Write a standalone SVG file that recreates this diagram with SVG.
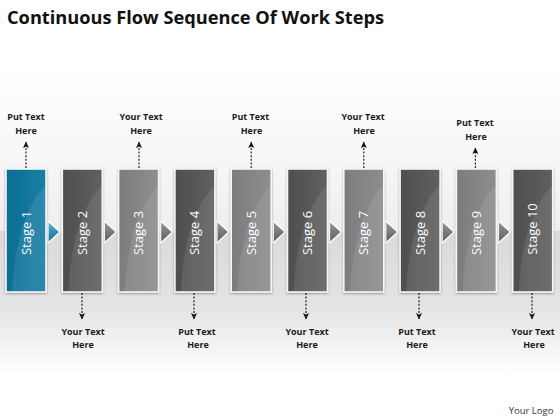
<svg xmlns="http://www.w3.org/2000/svg" width="560" height="420" viewBox="0 0 560 420">
<defs>
<linearGradient id="bgTop" x1="0" y1="0" x2="0" y2="1">
<stop offset="0" stop-color="#ffffff"/>
<stop offset="1" stop-color="#efefef"/>
</linearGradient>
<linearGradient id="bgBand" x1="0" y1="0" x2="0" y2="1">
<stop offset="0" stop-color="#dadada"/>
<stop offset="0.5" stop-color="#e3e3e3"/>
<stop offset="1" stop-color="#ffffff"/>
</linearGradient>
<linearGradient id="gBlue" x1="0" y1="0" x2="1" y2="0">
<stop offset="0" stop-color="#0e6d92"/>
<stop offset="1" stop-color="#157fa6"/>
</linearGradient>
<linearGradient id="gDark" x1="0" y1="0" x2="1" y2="0">
<stop offset="0" stop-color="#4e4e4e"/>
<stop offset="1" stop-color="#606060"/>
</linearGradient>
<linearGradient id="gLight" x1="0" y1="0" x2="1" y2="0">
<stop offset="0" stop-color="#7c7c7c"/>
<stop offset="1" stop-color="#8e8e8e"/>
</linearGradient>
<linearGradient id="tBlue" x1="0" y1="0" x2="0" y2="1">
<stop offset="0" stop-color="#5fb7d6"/>
<stop offset="1" stop-color="#0e6a8e"/>
</linearGradient>
<linearGradient id="tGray" x1="0" y1="0" x2="0" y2="1">
<stop offset="0" stop-color="#9a9a9a"/>
<stop offset="1" stop-color="#5a5a5a"/>
</linearGradient>
<filter id="sh" x="-20%" y="-10%" width="140%" height="120%">
<feDropShadow dx="0" dy="1" stdDeviation="1.2" flood-color="#000" flood-opacity="0.35"/>
</filter>
<marker id="ah" viewBox="0 0 8 8" refX="7" refY="4" markerWidth="7" markerHeight="7" markerUnits="userSpaceOnUse" orient="auto">
<path d="M0,0.5 L7.5,4 L0,7.5 L2,4 z" fill="#111"/>
</marker>
<style>
.box{stroke:#f6f6f6;stroke-width:1.6;filter:url(#sh)}
.gloss{fill:#ffffff;opacity:0.09}
.stg{font-family:"Open Sans","Liberation Sans",sans-serif;font-size:13px;fill:#ffffff;text-anchor:middle}
.tri{stroke:#ffffff;stroke-width:1.3}
.lbl{font-family:"Open Sans","Liberation Sans",sans-serif;font-size:9px;font-weight:bold;fill:#1a1a1a;text-anchor:middle}
.con{stroke:#111;stroke-width:1.1;stroke-dasharray:2,1.6;fill:none}
</style>
</defs>

<rect x="0" y="0" width="560" height="420" fill="#ffffff"/>
<rect x="0" y="70" width="560" height="161" fill="url(#bgTop)"/>
<rect x="0" y="231" width="560" height="145" fill="url(#bgBand)"/>

<text x="7" y="24" font-family="'Open Sans','Liberation Sans',sans-serif" font-size="18" font-weight="bold" fill="#111" textLength="377" lengthAdjust="spacingAndGlyphs">Continuous Flow Sequence Of Work Steps</text>

<g id="connectors">
<path class="tri" d="M48,221 L60,232 L48,243 z" fill="url(#tBlue)"/>
<path class="tri" d="M104.3,221 L116.3,232 L104.3,243 z" fill="url(#tGray)"/>
<path class="tri" d="M160.6,221 L172.6,232 L160.6,243 z" fill="url(#tGray)"/>
<path class="tri" d="M216.9,221 L228.9,232 L216.9,243 z" fill="url(#tGray)"/>
<path class="tri" d="M273.2,221 L285.2,232 L273.2,243 z" fill="url(#tGray)"/>
<path class="tri" d="M329.5,221 L341.5,232 L329.5,243 z" fill="url(#tGray)"/>
<path class="tri" d="M385.8,221 L397.8,232 L385.8,243 z" fill="url(#tGray)"/>
<path class="tri" d="M442.1,221 L454.1,232 L442.1,243 z" fill="url(#tGray)"/>
<path class="tri" d="M498.4,221 L510.4,232 L498.4,243 z" fill="url(#tGray)"/>

<line class="con" x1="26" y1="168" x2="26" y2="142" marker-end="url(#ah)"/>
<line class="con" x1="139" y1="168" x2="139" y2="142" marker-end="url(#ah)"/>
<line class="con" x1="251.2" y1="168" x2="251.2" y2="142" marker-end="url(#ah)"/>
<line class="con" x1="363.8" y1="168" x2="363.8" y2="142" marker-end="url(#ah)"/>
<line class="con" x1="475.4" y1="168" x2="475.4" y2="148" marker-end="url(#ah)"/>

<line class="con" x1="82" y1="293" x2="82" y2="319" marker-end="url(#ah)"/>
<line class="con" x1="194" y1="293" x2="194" y2="319" marker-end="url(#ah)"/>
<line class="con" x1="306" y1="293" x2="306" y2="319" marker-end="url(#ah)"/>
<line class="con" x1="419" y1="293" x2="419" y2="319" marker-end="url(#ah)"/>
<line class="con" x1="532" y1="293" x2="532" y2="319" marker-end="url(#ah)"/>
</g>

<g id="stage1">
<rect class="box" x="6" y="169" width="40" height="123" fill="url(#gBlue)"/>
<path class="gloss" d="M46,185 Q16,215 12,292 L46,292 Z"/>
<text class="stg" transform="translate(30.5,233) rotate(-90)">Stage 1</text>
<text class="lbl" x="26" y="120">Put Text</text>
<text class="lbl" x="26" y="134">Here</text>
</g>
<g id="stage2">
<rect class="box" x="62.3" y="169" width="40" height="123" fill="url(#gDark)"/>
<path class="gloss" d="M102.3,185 Q72.3,215 68.3,292 L102.3,292 Z"/>
<text class="stg" transform="translate(86.8,233) rotate(-90)">Stage 2</text>
<text class="lbl" x="83" y="335">Your Text</text>
<text class="lbl" x="83" y="348">Here</text>
</g>
<g id="stage3">
<rect class="box" x="118.6" y="169" width="40" height="123" fill="url(#gLight)"/>
<path class="gloss" d="M158.6,185 Q128.6,215 124.6,292 L158.6,292 Z"/>
<text class="stg" transform="translate(143.1,233) rotate(-90)">Stage 3</text>
<text class="lbl" x="141" y="120">Your Text</text>
<text class="lbl" x="141" y="134">Here</text>
</g>
<g id="stage4">
<rect class="box" x="174.9" y="169" width="40" height="123" fill="url(#gDark)"/>
<path class="gloss" d="M214.9,185 Q184.9,215 180.9,292 L214.9,292 Z"/>
<text class="stg" transform="translate(199.4,233) rotate(-90)">Stage 4</text>
<text class="lbl" x="197" y="335">Put Text</text>
<text class="lbl" x="198" y="348">Here</text>
</g>
<g id="stage5">
<rect class="box" x="231.2" y="169" width="40" height="123" fill="url(#gLight)"/>
<path class="gloss" d="M271.2,185 Q241.2,215 237.2,292 L271.2,292 Z"/>
<text class="stg" transform="translate(255.7,233) rotate(-90)">Stage 5</text>
<text class="lbl" x="250.5" y="120">Put Text</text>
<text class="lbl" x="251.5" y="134">Here</text>
</g>
<g id="stage6">
<rect class="box" x="287.5" y="169" width="40" height="123" fill="url(#gDark)"/>
<path class="gloss" d="M327.5,185 Q297.5,215 293.5,292 L327.5,292 Z"/>
<text class="stg" transform="translate(312,233) rotate(-90)">Stage 6</text>
<text class="lbl" x="307" y="335">Your Text</text>
<text class="lbl" x="307" y="348">Here</text>
</g>
<g id="stage7">
<rect class="box" x="343.8" y="169" width="40" height="123" fill="url(#gLight)"/>
<path class="gloss" d="M383.8,185 Q353.8,215 349.8,292 L383.8,292 Z"/>
<text class="stg" transform="translate(368.3,233) rotate(-90)">Stage 7</text>
<text class="lbl" x="363" y="120">Your Text</text>
<text class="lbl" x="364" y="134">Here</text>
</g>
<g id="stage8">
<rect class="box" x="400.1" y="169" width="40" height="123" fill="url(#gDark)"/>
<path class="gloss" d="M440.1,185 Q410.1,215 406.1,292 L440.1,292 Z"/>
<text class="stg" transform="translate(424.6,233) rotate(-90)">Stage 8</text>
<text class="lbl" x="417" y="335">Put Text</text>
<text class="lbl" x="417" y="348">Here</text>
</g>
<g id="stage9">
<rect class="box" x="456.4" y="169" width="40" height="123" fill="url(#gLight)"/>
<path class="gloss" d="M496.4,185 Q466.4,215 462.4,292 L496.4,292 Z"/>
<text class="stg" transform="translate(480.9,233) rotate(-90)">Stage 9</text>
<text class="lbl" x="475" y="126">Put Text</text>
<text class="lbl" x="476" y="140">Here</text>
</g>
<g id="stage10">
<rect class="box" x="512.7" y="169" width="40" height="123" fill="url(#gDark)"/>
<path class="gloss" d="M552.7,185 Q522.7,215 518.7,292 L552.7,292 Z"/>
<text class="stg" transform="translate(537.2,229) rotate(-90)">Stage 10</text>
<text class="lbl" x="533" y="335">Your Text</text>
<text class="lbl" x="534" y="348">Here</text>
</g>

<text x="531" y="414" font-family="'Open Sans','Liberation Sans',sans-serif" font-size="9.5" fill="#333" text-anchor="middle">Your Logo</text>
</svg>
